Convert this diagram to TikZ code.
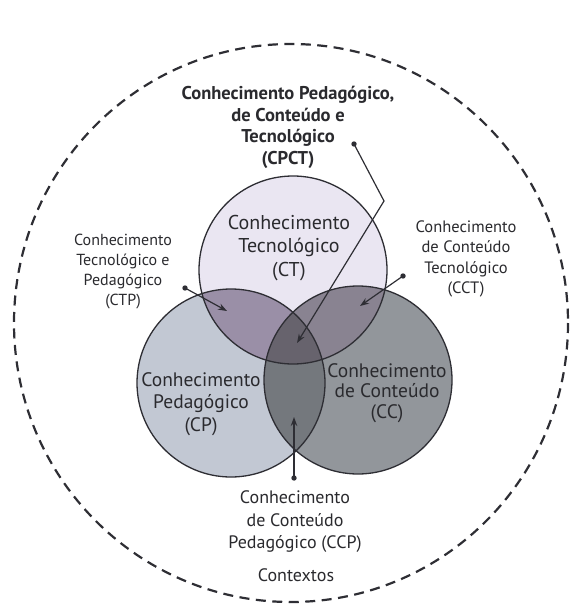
\documentclass[tikz,border=0pt]{standalone}
\usepackage{fontspec}
\setmainfont{PT Sans}
\usetikzlibrary{arrows.meta}
\definecolor{ctcol}{HTML}{EAE6F2}
\definecolor{cpcol}{HTML}{C2C8D3}
\definecolor{cccol}{HTML}{92969B}
\definecolor{ctpcol}{HTML}{9A8FA7}
\definecolor{cctcol}{HTML}{898391}
\definecolor{ccpcol}{HTML}{74787D}
\definecolor{allcol}{HTML}{67636D}
\definecolor{edgecol}{HTML}{2E2E34}
\definecolor{txtcol}{HTML}{2A2A2E}
\tikzset{
  ring/.style={draw=edgecol, line width=1.3pt},
  lbl/.style={align=center, text=txtcol, inner sep=0pt, font=\fontsize{16}{20}\selectfont},
  biglbl/.style={align=center, text=txtcol, inner sep=0pt, font=\fontsize{20}{23.5}\selectfont},
  toplbl/.style={align=center, text=txtcol, inner sep=0pt, font=\bfseries\fontsize{18.5}{21.7}\selectfont},
  pointer/.style={draw=edgecol, line width=1.2pt, -{Stealth[length=9pt,width=6.5pt]}},
  dotmark/.style={fill=edgecol}
}
\begin{document}
\begin{tikzpicture}[x=1pt,y=-1pt]
\useasboundingbox (0,0) rectangle (571,609);
% outer context
\draw[edgecol, line width=2.2pt, dash pattern=on 10pt off 6.5pt] (291,323) ellipse [x radius=277, y radius=279];
% base fills
\fill[ctcol] (293,270) circle (94);
\fill[cpcol] (231,383) circle (94);
\fill[cccol] (358,380) circle (94);
\begin{scope}
  \clip (293,270) circle (94);
  \fill[ctpcol] (231,383) circle (94);
  \fill[cctcol] (358,380) circle (94);
\end{scope}
\begin{scope}
  \clip (231,383) circle (94);
  \fill[ccpcol] (358,380) circle (94);
  \clip (293,270) circle (94);
  \fill[allcol] (358,380) circle (94);
\end{scope}
\draw[ring] (293,270) circle (94);
\draw[ring] (231,383) circle (94);
\draw[ring] (358,380) circle (94);
% labels
\node[toplbl] (cpct) at (288,127.5) {Conhecimento Pedagógico,\\de Conteúdo e\\Tecnológico\\(CPCT)};
\node[biglbl] (ct) at (289,248) {Conhecimento\\Tecnológico\\(CT)};
\node[biglbl, font=\fontsize{19.5}{22.5}\selectfont] (cp) at (201,404) {Conhecimento\\Pedagógico\\(CP)};
\node[biglbl, font=\fontsize{19.5}{20.5}\selectfont] (cc) at (387,393) {Conhecimento\\de Conteúdo\\(CC)};
\node[lbl] (ctp) at (123,272) {Conhecimento\\Tecnológico e\\Pedagógico\\(CTP)};
\node[lbl, font=\fontsize{16.5}{20.5}\selectfont] (cct) at (466,259) {Conhecimento\\de Conteúdo\\Tecnológico\\(CCT)};
\node[lbl, font=\fontsize{18}{22.5}\selectfont] (ccp) at (295,522) {Conhecimento\\de Conteúdo\\Pedagógico (CCP)};
\node[lbl, font=\fontsize{18}{22}\selectfont] (ctx) at (296,575) {Contextos};
% connector ends
\coordinate (dcpct) at (354,144);
\coordinate (bcpct) at (384,201);
\coordinate (tcpct) at (297,343);
\coordinate (dctp) at (185,288);
\coordinate (tctp) at (227,311);
\coordinate (dcct) at (403,276);
\coordinate (tcct) at (360,306);
\coordinate (dccp) at (294,478);
\coordinate (tccp) at (294,417);
\draw[pointer] (dcpct) -- (bcpct) -- (tcpct);
\draw[pointer] (dctp) -- (tctp);
\draw[pointer] (dcct) -- (tcct);
\draw[pointer] (dccp) -- (tccp);
\foreach \p in {dcpct,dctp,dcct,dccp} \fill[dotmark] (\p) circle (2.7);
\end{tikzpicture}
\end{document}
